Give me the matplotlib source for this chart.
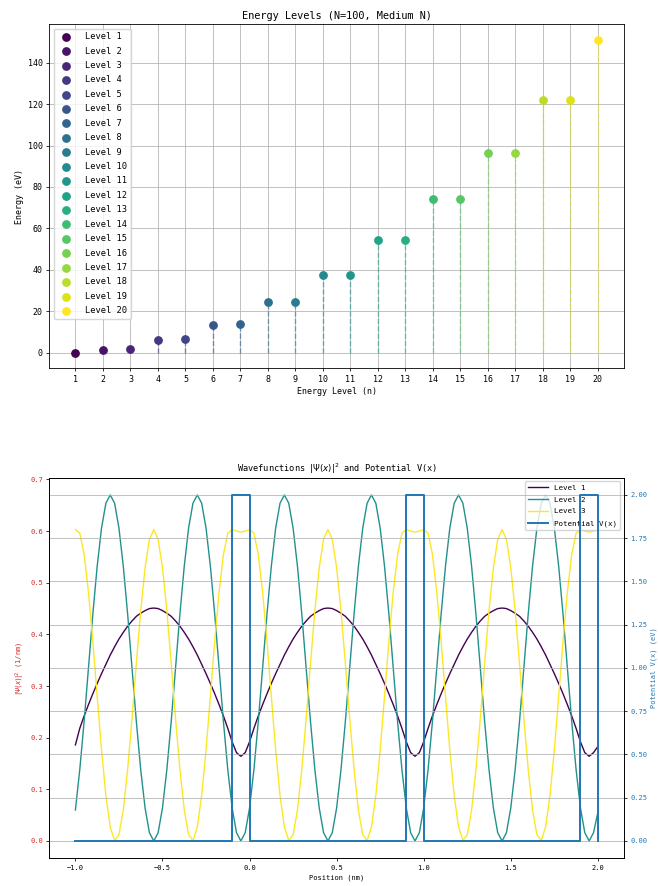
import numpy as np
import matplotlib
matplotlib.use("Agg")
import matplotlib.pyplot as plt

plt.rcParams['font.family'] = ['DejaVu Sans Mono', 'DejaVu Sans']
plt.rcParams['axes.linewidth'] = 0.6
plt.rcParams['grid.linewidth'] = 0.55
plt.rcParams['xtick.major.size'] = 2.3
plt.rcParams['ytick.major.size'] = 2.3
plt.rcParams['xtick.major.width'] = 0.55
plt.rcParams['ytick.major.width'] = 0.55
plt.rcParams['xtick.major.pad'] = 2.3
plt.rcParams['ytick.major.pad'] = 2.3
plt.rcParams['axes.titlepad'] = 4
plt.rcParams['axes.labelpad'] = 2.6

# 能级数据 (eV)
levels = list(range(1, 21))
energies = [0.0, 1.45, 1.75, 5.95, 6.4, 13.5, 14.0, 24.3, 24.3, 37.7,
            37.7, 54.2, 54.5, 74.0, 74.0, 96.6, 96.6, 122.1, 122.1, 151.0]

# 位置 (nm)
x_pos = np.linspace(-1.0, 2.0, 121)

# |psi|^2 读数
psi1 = [0.186, 0.218, 0.242, 0.264, 0.285, 0.305, 0.324, 0.342, 0.360, 0.376,
        0.391, 0.404, 0.416, 0.426, 0.435, 0.441, 0.446, 0.450, 0.451,
        0.450, 0.446, 0.441, 0.435, 0.426, 0.416, 0.404, 0.391, 0.376, 0.360,
        0.342, 0.324, 0.305, 0.285, 0.264, 0.242, 0.218, 0.192, 0.171, 0.164,
        0.171, 0.192, 0.218, 0.242, 0.264, 0.285, 0.305, 0.324, 0.342, 0.360,
        0.376, 0.391, 0.404, 0.416, 0.426, 0.435, 0.441, 0.446, 0.450, 0.451,
        0.450, 0.446, 0.441, 0.435, 0.426, 0.416, 0.404, 0.391, 0.376, 0.360,
        0.342, 0.324, 0.305, 0.285, 0.264, 0.242, 0.218, 0.192, 0.171, 0.164,
        0.171, 0.192, 0.218, 0.242, 0.264, 0.285, 0.305, 0.324, 0.342, 0.360,
        0.376, 0.391, 0.404, 0.416, 0.426, 0.435, 0.441, 0.446, 0.450, 0.451,
        0.450, 0.446, 0.441, 0.435, 0.426, 0.416, 0.404, 0.391, 0.376, 0.360,
        0.342, 0.324, 0.305, 0.285, 0.264, 0.242, 0.218, 0.192, 0.171, 0.164,
        0.171, 0.183]

psi2 = [0.060, 0.138, 0.231, 0.335, 0.439, 0.532, 0.606, 0.654, 0.670, 0.654,
        0.606, 0.532, 0.439, 0.335, 0.231, 0.138, 0.064, 0.016, 0.000, 0.016,
        0.064, 0.138, 0.231, 0.335, 0.439, 0.532, 0.606, 0.654, 0.670, 0.654,
        0.606, 0.532, 0.439, 0.335, 0.231, 0.138, 0.064, 0.016, 0.000, 0.016,
        0.064, 0.138, 0.231, 0.335, 0.439, 0.532, 0.606, 0.654, 0.670, 0.654,
        0.606, 0.532, 0.439, 0.335, 0.231, 0.138, 0.064, 0.016, 0.000, 0.016,
        0.064, 0.138, 0.231, 0.335, 0.439, 0.532, 0.606, 0.654, 0.670, 0.654,
        0.606, 0.532, 0.439, 0.335, 0.231, 0.138, 0.064, 0.016, 0.000, 0.016,
        0.064, 0.138, 0.231, 0.335, 0.439, 0.532, 0.606, 0.654, 0.670, 0.654,
        0.606, 0.532, 0.439, 0.335, 0.231, 0.138, 0.064, 0.016, 0.000, 0.016,
        0.064, 0.138, 0.231, 0.335, 0.439, 0.532, 0.606, 0.654, 0.670, 0.654,
        0.606, 0.532, 0.439, 0.335, 0.231, 0.138, 0.064, 0.016, 0.000, 0.016,
        0.055]

psi3 = [0.603, 0.596, 0.555, 0.482, 0.387, 0.280, 0.176, 0.088, 0.027, 0.001,
        0.012, 0.060, 0.139, 0.237, 0.344, 0.446, 0.529, 0.584, 0.603,
        0.584, 0.529, 0.446, 0.344, 0.237, 0.139, 0.060, 0.012, 0.001, 0.027,
        0.088, 0.176, 0.280, 0.387, 0.482, 0.555, 0.596, 0.603, 0.600, 0.598,
        0.600, 0.603, 0.596, 0.555, 0.482, 0.387, 0.280, 0.176, 0.088, 0.027,
        0.001, 0.012, 0.060, 0.139, 0.237, 0.344, 0.446, 0.529, 0.584, 0.603,
        0.584, 0.529, 0.446, 0.344, 0.237, 0.139, 0.060, 0.012, 0.001, 0.027,
        0.088, 0.176, 0.280, 0.387, 0.482, 0.555, 0.596, 0.603, 0.600, 0.598,
        0.600, 0.603, 0.596, 0.555, 0.482, 0.387, 0.280, 0.176, 0.088, 0.027,
        0.001, 0.012, 0.060, 0.139, 0.237, 0.344, 0.446, 0.529, 0.584, 0.603,
        0.584, 0.529, 0.446, 0.344, 0.237, 0.139, 0.060, 0.012, 0.001, 0.027,
        0.088, 0.176, 0.280, 0.387, 0.482, 0.555, 0.596, 0.603, 0.600, 0.598,
        0.600, 0.603]

# 势垒 V(x) (eV)
pot_x = [-1.0, -0.1, -0.1, 0.0, 0.0, 0.9, 0.9, 1.0, 1.0, 1.9, 1.9, 2.0, 2.0]
pot_v = [0, 0, 2, 2, 0, 0, 2, 2, 0, 0, 2, 2, 0]

fig = plt.figure(figsize=(6.58, 8.86), dpi=100)

# 能级图
ax1 = fig.add_axes([0.0749, 0.5843, 0.8734, 0.3883])
colors = plt.cm.viridis(np.linspace(0, 1, len(levels)))
for n, e, c in zip(levels, energies, colors):
    ax1.vlines(n, 0, e, colors=[c], linestyles='dashed', linewidth=1.0, alpha=0.6)
    ax1.scatter(n, e, color=c, s=28, zorder=3, label=f'Level {n}')
ax1.set_xticks(levels)
ax1.set_title('Energy Levels (N=100, Medium N)', fontsize=7.4)
ax1.set_xlabel('Energy Level (n)', fontsize=6.0)
ax1.set_ylabel('Energy (eV)', fontsize=6.0)
ax1.tick_params(labelsize=6.0)
ax1.grid(True)
ax1.legend(loc='upper left', fontsize=6.3, labelspacing=0.62, handletextpad=1.2)

# 波函数图
ax2 = fig.add_axes([0.0749, 0.0313, 0.8734, 0.4296])
wf_colors = [plt.cm.viridis(0.0), plt.cm.viridis(0.5), plt.cm.viridis(1.0)]
l1, = ax2.plot(x_pos, psi1, color=wf_colors[0], linewidth=1.0, label='Level 1')
l2, = ax2.plot(x_pos, psi2, color=wf_colors[1], linewidth=1.0, label='Level 2')
l3, = ax2.plot(x_pos, psi3, color=wf_colors[2], linewidth=1.0, label='Level 3')
ax2.set_xlabel('Position (nm)', fontsize=5.0)
ax2.set_ylabel(r'$|\Psi(x)|^2$ (1/nm)', fontsize=5.0, color='tab:red')
ax2.tick_params(axis='y', labelcolor='tab:red', labelsize=5.0)
ax2.tick_params(axis='x', labelsize=5.0)
ax2.set_title(r'Wavefunctions $|\Psi(x)|^2$ and Potential V(x)', fontsize=6.2)

ax3 = ax2.twinx()
l4, = ax3.plot(pot_x, pot_v, color='tab:blue', linewidth=1.4, label='Potential V(x)')
ax3.set_ylabel('Potential V(x) (eV)', fontsize=5.0, color='tab:blue')
ax3.tick_params(axis='y', labelcolor='tab:blue', labelsize=5.0)
ax3.tick_params(axis='y', length=2.3, width=0.55, pad=2.3)
ax3.grid(True)

ax2.legend([l1, l2, l3, l4], [h.get_label() for h in [l1, l2, l3, l4]],
           loc='upper right', fontsize=5.4, labelspacing=0.75, handlelength=2.7)

fig.savefig('out.png', dpi=100)
